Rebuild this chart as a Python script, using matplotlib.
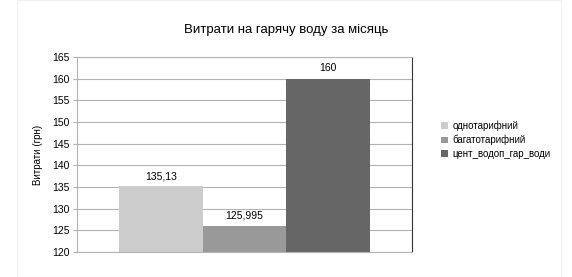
import matplotlib.pyplot as plt
from matplotlib.patches import Rectangle

plt.rcParams['font.family'] = ['Liberation Sans', 'DejaVu Sans']

series = ['однотарифний', 'багатотарифний', 'цент_водоп_гар_води']
values = [135.13, 125.995, 160]
labels = ['135,13', '125,995', '160']
colors = ['#cccccc', '#999999', '#666666']
y_ticks = list(range(120, 166, 5))

fig = plt.figure(figsize=(5.72, 2.77), dpi=100)
fig.patches.append(Rectangle((0.03, 0.0), 0.95, 1.0, transform=fig.transFigure,
                             fill=False, edgecolor='#f0f0f0', lw=0.8))
ax = fig.add_axes([77 / 572, 1 - 252 / 277, 335 / 572, 195 / 277])

for i, (name, v, c) in enumerate(zip(series, values, colors)):
    ax.bar(i, v - 120, bottom=120, width=1.0, color=c, label=name, zorder=2)
    ax.text(i, v + 1.2, labels[i], ha='center', va='bottom', fontsize=7.5)

ax.set_xlim(-1, 3)
ax.set_ylim(120, 165)
ax.set_yticks(y_ticks)
ax.tick_params(axis='y', labelsize=7.5, length=3, color='#b3b3b3', pad=2)
ax.set_xticks([])
ax.yaxis.grid(True, color='#b3b3b3', lw=0.8, zorder=0)
ax.set_axisbelow(True)
for s in ['left', 'top', 'bottom']:
    ax.spines[s].set_color('#b3b3b3')
ax.spines['right'].set_color('#333333')
ax.set_ylabel('Витрати (грн)', fontsize=7, labelpad=7)

fig.suptitle('Витрати на гарячу воду за місяць', x=0.5, y=0.915, fontsize=9.5)

ax.legend(loc='center left', bbox_to_anchor=(1.06, 0.575), frameon=False,
          fontsize=7, handlelength=0.7, handleheight=0.7, handletextpad=0.5,
          labelspacing=0.4)

fig.savefig('out.png', dpi=100)
